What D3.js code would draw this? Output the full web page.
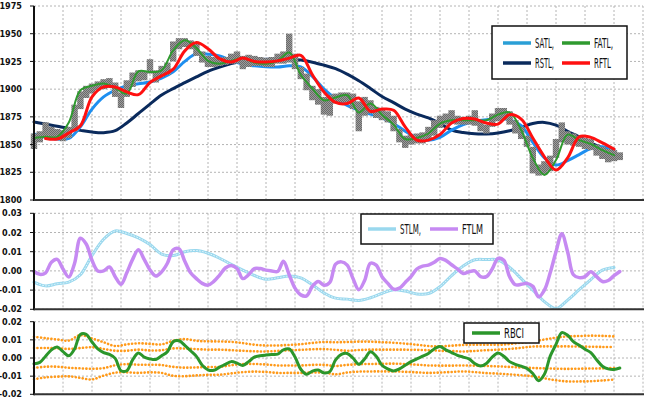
<!DOCTYPE html>
<html>
<head>
<meta charset="utf-8">
<script src="https://cdn.jsdelivr.net/npm/d3@7"></script>
<style>
  html, body { margin: 0; padding: 0; background: #fff; }
  svg { display: block; }
  .tick-label { font-family: "Liberation Sans Narrow", "DejaVu Sans Condensed", sans-serif; font-weight: bold; font-size: 9px; fill: #111; }
  .legend-label { font-family: "Liberation Sans Narrow", "DejaVu Sans Condensed", sans-serif; font-size: 14px; fill: #111; }
</style>
</head>
<body>
<div id="chart"></div>
<script>
// ---- datos ----
// barras de precio, una por unidad del eje x
const priceHigh = [1860,1862,1870,1866,1864,1863,1866,1886,1898,1903,1905,1907,1909,1910,1906,1897,1908,1915,1917,1916,
  1927,1917,1921,1924,1943,1946,1946,1944,1941,1934,1930,1929,1928,1929,1932,1934,1930,1931,1930,1929,
  1928,1929,1932,1934,1950,1932,1920,1914,1903,1900,1893,1895,1896,1897,1897,1896,1889,1893,1890,1884,
  1882,1880,1876,1864,1858,1859,1860,1861,1866,1872,1876,1878,1881,1876,1875,1876,1881,1872,1868,1878,
  1883,1883,1880,1872,1866,1858,1848,1832,1835,1840,1855,1870,1862,1860,1858,1856,1855,1850,1848,1846,
  1845,1843];
const priceLow = [1846,1852,1856,1855,1854,1853,1856,1862,1882,1892,1896,1899,1900,1901,1893,1883,1893,1902,1907,1908,
  1914,1906,1911,1913,1925,1936,1938,1936,1930,1924,1920,1920,1921,1922,1923,1923,1918,1920,1921,1921,
  1920,1920,1923,1923,1924,1918,1909,1899,1890,1886,1877,1876,1887,1888,1888,1882,1862,1876,1878,1874,
  1872,1870,1862,1852,1847,1850,1851,1851,1854,1858,1865,1868,1869,1868,1868,1868,1867,1862,1860,1866,
  1871,1872,1868,1860,1855,1848,1824,1822,1823,1826,1838,1852,1850,1849,1848,1846,1845,1840,1837,1834,
  1835,1836];

// filtros suaves, un valor cada 2 unidades
const rstl = [1870.4,1868.5,1866.5,1864.5,1862.8,1861.3,1860.7,1862.5,1869.5,1878,1886.5,1894.7,1900.5,1905.8,1911,1916,1919.8,1923,1925.2,1926.3,
  1927,1927.2,1927,1926.2,1924.3,1921.6,1918.5,1913.5,1907.5,1900.6,1893.4,1887.8,1882,1877.5,1874,1869,1863,1860.8,1859.7,1859.6,
  1860.5,1862.5,1865.5,1869,1870,1867.5,1862,1857,1851.5,1847,1843];
const satl = [1859.5,1856.5,1855,1855.5,1866,1882,1893,1899,1903,1904.8,1906.5,1910,1915.7,1925,1932,1931.5,1930,1926,1922.5,1921,
  1920.2,1920,1921,1920,1911.5,1900,1891.5,1885.3,1881,1877.5,1874,1869,1862,1856.5,1854,1856.5,1863,1868,1871,1872.5,
  1873.2,1872.5,1867,1852,1838,1831.5,1835.5,1841,1846.5,1848,1845.5];
const fatl = [1856,1857,1857,1870,1899,1903,1905,1901,1896,1916,1915.5,1917,1935,1944,1937,1925.5,1923,1925.5,1928,1924,
  1923,1925.5,1933,1913,1900.5,1890,1892.5,1894.5,1879,1887,1877,1868,1855,1856,1860,1869,1872,1872,1872,1872,
  1877,1879,1863,1838,1822.5,1836,1859,1854,1850.5,1845,1840.5];
const rftl = [null,1855.5,1855,1860.5,1867,1893,1902,1902,1897.5,1895,1906,1912,1918,1934.5,1942,1936.5,1927.5,1924.5,1928,1925,
  1924.5,1925.5,1928,1930.5,1913,1897.5,1888,1887,1892,1880,1882,1881,1866,1854,1854,1859,1869.5,1873.5,1873,1869.5,
  1868.5,1877,1873,1856,1839,1827,1838,1857,1856.5,1851.5,1846];

// momentum
const stlm = [-0.0058,-0.0078,-0.0067,-0.0058,-0.002,0.008,0.0165,0.0208,0.0195,0.0172,0.0137,0.0088,0.008,0.01,0.0106,0.0092,0.0066,0.0034,0.0004,-0.0024,
  -0.0043,-0.0036,-0.0027,-0.0036,-0.0072,-0.0115,-0.0142,-0.0147,-0.0154,-0.014,-0.0117,-0.0098,-0.0105,-0.012,-0.0118,-0.0082,-0.0025,0.0025,0.0058,0.0059,
  0.0057,0.0018,-0.004,-0.01,-0.016,-0.0196,-0.0152,-0.0098,-0.0045,0.0004,0.0018];
// una unidad por valor
const ftlm = [-0.0003,-0.0018,-0.001,0.0045,0.006,0.001,-0.0032,0.004,0.017,0.014,0.0055,0,0,0.002,-0.003,-0.007,-0.001,0.006,0.011,0.006,
  0.0005,-0.0027,-0.0005,0.004,0.011,0.0115,0.005,-0.001,-0.004,-0.0065,-0.0074,-0.0055,-0.0022,0.0015,0.0028,0.0012,-0.004,-0.002,0.0012,0.0012,
  0.0004,0,-0.0003,0.005,-0.002,-0.009,-0.0125,-0.013,-0.008,-0.0055,-0.0075,-0.006,0.0035,0.0047,0.003,-0.004,-0.0098,-0.005,0.004,0.003,
  -0.003,-0.0065,-0.0095,-0.009,-0.006,-0.003,0.001,0.0025,0.003,0.0045,0.0065,0.0055,0.0032,0.001,-0.0014,-0.0005,0,-0.003,-0.003,0.001,
  0.0065,0.0055,-0.003,-0.0072,-0.007,-0.0065,-0.008,-0.0135,-0.01,-0.001,0.01,0.0193,0.01,-0.002,-0.0035,-0.003,-0.0005,-0.003,-0.0055,-0.005,
  -0.0025,-0.0003];

// RBCI, una unidad por valor
const rbci = [-0.0032,-0.0024,0.001,0.0045,0.006,0.0035,0.0012,0.005,0.013,0.013,0.0088,0.005,0.003,0.002,-0.0002,-0.007,-0.007,-0.001,0.0028,0.0005,
  -0.0005,-0.0008,0.0012,0.0035,0.009,0.0095,0.007,0.004,0.0009,-0.004,-0.0065,-0.0068,-0.005,-0.0035,-0.002,-0.0028,-0.0041,-0.002,0.0005,0.0012,
  0.0016,0.0019,0.0021,0.0045,0.005,0.0005,-0.0062,-0.009,-0.0072,-0.0066,-0.0082,-0.0075,-0.001,0.002,0.0025,0,-0.0035,-0.0005,0.0035,0.001,
  -0.004,-0.006,-0.0072,-0.006,-0.004,-0.002,-0.0005,0.001,0.0025,0.005,0.0064,0.0045,0.003,0.0015,0.0005,-0.0005,-0.003,-0.0044,-0.003,0.0005,
  0.0027,0.001,-0.002,-0.0035,-0.0045,-0.0058,-0.0085,-0.0125,-0.009,0.001,0.0075,0.014,0.0125,0.009,0.007,0.0048,0.003,-0.001,-0.0045,-0.006,
  -0.0063,-0.0055];
// bandas, cada 2 unidades
const bandUpOuter = [0.0117,0.0109,0.0102,0.0096,0.0126,0.0108,0.0087,0.0066,0.0075,0.0081,0.0078,0.0075,0.0095,0.0104,0.0095,0.0092,0.0091,0.0089,0.0082,0.0073,
  0.0069,0.0069,0.0072,0.0076,0.0083,0.0088,0.0087,0.0088,0.009,0.009,0.0087,0.0084,0.0079,0.0073,0.0066,0.0064,0.0068,0.0072,0.0073,0.0073,
  0.0073,0.0077,0.0084,0.0091,0.0102,0.0112,0.0119,0.0121,0.0123,0.0122,0.0119];
const bandUpInner = [0.0055,0.0055,0.0053,0.005,0.0055,0.0059,0.005,0.004,0.004,0.0046,0.0042,0.0043,0.0053,0.0052,0.0049,0.0046,0.0046,0.0043,0.004,0.0037,
  0.0036,0.0039,0.0043,0.0045,0.0048,0.0049,0.0045,0.004,0.0044,0.0046,0.0046,0.0046,0.0046,0.0045,0.0043,0.004,0.0038,0.0036,0.0039,0.0043,
  0.0046,0.005,0.0056,0.0063,0.0064,0.0064,0.0064,0.0063,0.0062,0.0061,0.006];
const bandLowInner = [-0.0055,-0.0048,-0.0048,-0.0054,-0.0057,-0.0059,-0.0056,-0.004,-0.0034,-0.0037,-0.0037,-0.0039,-0.0049,-0.0053,-0.0052,-0.005,-0.0049,-0.004,-0.0033,-0.0033,
  -0.0036,-0.0041,-0.0041,-0.0041,-0.0038,-0.0038,-0.0044,-0.0038,-0.0034,-0.0033,-0.0032,-0.0031,-0.0033,-0.0037,-0.0041,-0.0042,-0.0042,-0.0041,-0.0042,-0.0044,
  -0.0046,-0.0049,-0.0052,-0.0055,-0.0057,-0.0059,-0.006,-0.0059,-0.0058,-0.0057,-0.0055];
const bandLowOuter = [-0.0117,-0.0107,-0.0103,-0.0101,-0.011,-0.0118,-0.0097,-0.0081,-0.0079,-0.0082,-0.0079,-0.0082,-0.0098,-0.01,-0.0096,-0.0093,-0.0092,-0.0085,-0.0078,-0.0075,
  -0.0077,-0.0082,-0.0082,-0.0082,-0.008,-0.008,-0.009,-0.008,-0.0075,-0.0074,-0.0074,-0.0074,-0.0076,-0.0079,-0.0082,-0.008,-0.0077,-0.0074,-0.0078,-0.0083,
  -0.0086,-0.009,-0.0095,-0.0101,-0.0112,-0.0123,-0.0129,-0.0129,-0.0128,-0.0124,-0.0119];

// marcas de los ejes
const priceTicks = [1800,1825,1850,1875,1900,1925,1950,1975];
const momTicks = [-0.02,-0.01,0,0.01,0.02,0.03];
const momTickLabels = ["-0.02","-0.01","0.00","0.01","0.02","0.03"];
const rbciTicks = [-0.02,-0.01,0,0.01,0.02];
const rbciTickLabels = ["-0.02","-0.01","0.00","0.01","0.02"];
const gridX = d3.range(0, 106, 5);

// ---- dibujo ----
const W = 650, H = 398;
const svg = d3.select("#chart").append("svg").attr("width", W).attr("height", H);

// textura gris a cuadros para las barras de precio
const defs = svg.append("defs");
const pat = defs.append("pattern")
  .attr("id", "checker").attr("width", 2).attr("height", 2)
  .attr("patternUnits", "userSpaceOnUse");
pat.append("rect").attr("width", 2).attr("height", 2).attr("fill", "#9c9c9c");
pat.append("rect").attr("width", 1).attr("height", 1).attr("fill", "#6a6a6a");
pat.append("rect").attr("x", 1).attr("y", 1).attr("width", 1).attr("height", 1).attr("fill", "#6a6a6a");

const x = d3.scaleLinear().domain([0, 105]).range([34, 643]);
const yPrice = d3.scaleLinear().domain([1800, 1975]).range([200, 6]);
const yMom = d3.scaleLinear().domain([-0.02, 0.03]).range([309.3, 213.3]);
const yRbci = d3.scaleLinear().domain([-0.02, 0.02]).range([394.3, 321.7]);

const panels = [
  { y: yPrice, ticks: priceTicks, labels: priceTicks.map(String) },
  { y: yMom, ticks: momTicks, labels: momTickLabels },
  { y: yRbci, ticks: rbciTicks, labels: rbciTickLabels }
];

// Rejilla de cada panel
panels.forEach(p => {
  const g = svg.append("g");
  const [y0, y1] = p.y.range();
  g.selectAll(".hgrid").data(p.ticks).enter().append("line")
    .attr("x1", x(0)).attr("x2", x(105))
    .attr("y1", d => p.y(d)).attr("y2", d => p.y(d))
    .attr("stroke", "#b4b4b4").attr("stroke-width", 1).attr("stroke-dasharray", "2,2");
  g.selectAll(".vgrid").data(gridX).enter().append("line")
    .attr("x1", d => x(d)).attr("x2", d => x(d))
    .attr("y1", y1).attr("y2", y0)
    .attr("stroke", "#b4b4b4").attr("stroke-width", 1).attr("stroke-dasharray", "2,2");
});

function makeLine(yScale, step) {
  return d3.line()
    .defined(v => v != null)
    .x((v, i) => x(i * step))
    .y(v => yScale(v))
    .curve(d3.curveCatmullRom.alpha(0.5));
}

function drawSeries(series, yScale, step, color, width, dash) {
  const path = svg.append("path")
    .attr("d", makeLine(yScale, step)(series))
    .attr("fill", "none")
    .attr("stroke", color)
    .attr("stroke-width", width)
    .attr("stroke-linejoin", "round")
    .attr("stroke-linecap", "round");
  if (dash) path.attr("stroke-dasharray", dash);
  return path;
}

// Panel superior: filtros y precio
drawSeries(rstl, yPrice, 2, "#0a2a5c", 3);
drawSeries(satl, yPrice, 2, "#1e8ff0", 3);

svg.append("g").selectAll("rect").data(priceHigh).enter().append("rect")
  .attr("x", (d, i) => x(i) - 3.2)
  .attr("width", 6.4)
  .attr("y", d => yPrice(d))
  .attr("height", (d, i) => yPrice(priceLow[i]) - yPrice(d))
  .attr("fill", "url(#checker)");

drawSeries(fatl, yPrice, 2, "#2f9a2f", 2);
drawSeries(rftl, yPrice, 2, "#ff1010", 3);

// Panel medio
drawSeries(stlm, yMom, 2, "#9ad8ee", 3);
drawSeries(stlm, yMom, 2, "#e6f7fc", 1, "1,2");
drawSeries(ftlm, yMom, 1, "#c68af2", 3.5);

// Panel inferior
[bandUpOuter, bandUpInner, bandLowInner, bandLowOuter].forEach(b => {
  drawSeries(b, yRbci, 2, "#ff9a1a", 2.6, "0.1,3.4");
});
drawSeries(rbci, yRbci, 1, "#2b962b", 3);

// Ejes (encima de las series)
panels.forEach(p => {
  const [y0, y1] = p.y.range();
  const g = svg.append("g");
  g.append("line").attr("x1", x(0)).attr("x2", x(0)).attr("y1", y1).attr("y2", y0 + 1)
    .attr("stroke", "#111").attr("stroke-width", 2);
  g.append("line").attr("x1", x(0)).attr("x2", x(105) + 1).attr("y1", y0).attr("y2", y0)
    .attr("stroke", "#333").attr("stroke-width", 2);
  g.selectAll(".tk").data(p.ticks).enter().append("line")
    .attr("x1", x(0) - 4).attr("x2", x(0))
    .attr("y1", d => p.y(d)).attr("y2", d => p.y(d))
    .attr("stroke", "#111").attr("stroke-width", 1);
  g.selectAll(".lb").data(p.ticks).enter().append("text")
    .attr("class", "tick-label")
    .attr("x", 22)
    .attr("y", d => p.y(d))
    .attr("dy", "0.35em")
    .attr("text-anchor", "end")
    .text((d, i) => p.labels[i]);
});

// Leyendas
function legend(bx, by, bw, bh, items) {
  const g = svg.append("g");
  g.append("rect").attr("x", bx).attr("y", by).attr("width", bw).attr("height", bh)
    .attr("fill", "#fff").attr("stroke", "#111").attr("stroke-width", 1.5);
  items.forEach(it => {
    g.append("line").attr("x1", it.x).attr("x2", it.x + 28).attr("y1", it.y).attr("y2", it.y)
      .attr("stroke", it.color).attr("stroke-width", 3.5);
    g.append("text").attr("class", "legend-label")
      .attr("x", it.x + 32).attr("y", it.y).attr("dy", "0.36em")
      .attr("textLength", it.len).attr("lengthAdjust", "spacingAndGlyphs")
      .text(it.label);
  });
}

legend(492, 26, 135, 53, [
  { label: "SATL,", x: 503, y: 43, color: "#2a9fd6", len: 19 },
  { label: "FATL,", x: 562, y: 43, color: "#2f9a2f", len: 19 },
  { label: "RSTL,", x: 503, y: 63, color: "#0a2a5c", len: 19 },
  { label: "RFTL", x: 562, y: 63, color: "#ff1010", len: 17 }
]);
legend(361, 214, 132, 30, [
  { label: "STLM,", x: 368, y: 229, color: "#9ad8ee", len: 21 },
  { label: "FTLM", x: 430, y: 229, color: "#c68af2", len: 21 }
]);
legend(464, 323, 75, 20, [
  { label: "RBCI", x: 472, y: 333, color: "#2b962b", len: 20 }
]);
</script>
</body>
</html>
